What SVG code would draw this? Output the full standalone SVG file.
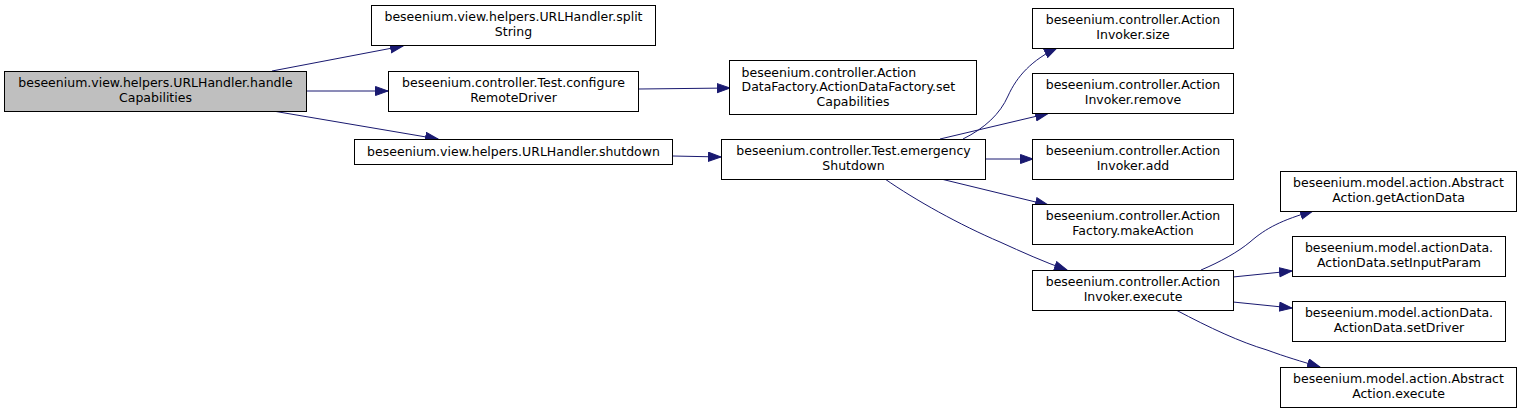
<svg xmlns="http://www.w3.org/2000/svg" width="1527" height="413" viewBox="0 0 1527 413">
<defs>
<marker id="arr" markerUnits="userSpaceOnUse" markerWidth="15" markerHeight="12" refX="13" refY="5" orient="auto">
<path d="M0.5,0.5 L13,5 L0.5,9.5 z" fill="#191970" stroke="#191970" stroke-width="1"/>
</marker>
<style>
.n rect{fill:#fff;stroke:#000;stroke-width:1}
.n.hl rect{fill:#bfbfbf}
.n text{font-family:"DejaVu Sans","Liberation Sans",sans-serif;font-size:12.5px;fill:#000;text-anchor:middle}
.n text.l{text-anchor:start}
.e path{fill:none;stroke:#191970;stroke-width:1;marker-end:url(#arr)}
</style>
</defs>
<rect width="1527" height="413" fill="#fff"/>
<g id="connectors" class="e">
<path d="M272,71 L403,46"/>
<path d="M306,91 L388,91"/>
<path d="M273,111 L438,139"/>
<path d="M639,89 L730,88"/>
<path d="M673,156 L721,157"/>
<path d="M963,139 C985,128 1000,114 1008,96 C1017,76 1032,60 1057,48"/>
<path d="M940,139 L1048,113.5"/>
<path d="M986,159 L1033,159"/>
<path d="M941,179 L1048,205"/>
<path d="M885,179 C915,200 960,225 1000,242 C1022,252 1044,262 1067,270"/>
<path d="M1201,270 C1220,262 1238,252 1250,242 C1266,228 1282,220 1313,211"/>
<path d="M1233,277 L1292,271"/>
<path d="M1233,302 L1292,308"/>
<path d="M1176,310 C1210,328 1240,342 1267,350 C1286,357 1300,361 1320,367"/>
</g>
<g id="handleCapabilities" class="n hl">
<rect x="4.5" y="71.5" width="302" height="40"/>
<text x="155.5" y="87">beseenium.view.helpers.URLHandler.handle</text>
<text x="155.5" y="101.5">Capabilities</text>
</g>
<g id="splitString" class="n">
<rect x="371.5" y="5.5" width="284" height="40"/>
<text x="513.5" y="21">beseenium.view.helpers.URLHandler.split</text>
<text x="513.5" y="35.5">String</text>
</g>
<g id="configureRemoteDriver" class="n">
<rect x="388.5" y="71.5" width="250" height="40"/>
<text x="513.5" y="87">beseenium.controller.Test.configure</text>
<text x="513.5" y="101.5">RemoteDriver</text>
</g>
<g id="urlShutdown" class="n">
<rect x="354.5" y="139.5" width="318" height="25"/>
<text x="513.5" y="156">beseenium.view.helpers.URLHandler.shutdown</text>
</g>
<g id="setCapabilities" class="n">
<rect x="729.5" y="60.5" width="247" height="54"/>
<text class="l" x="741.5" y="76.5">beseenium.controller.Action</text>
<text class="l" x="741.5" y="91">DataFactory.ActionDataFactory.set</text>
<text x="853" y="105.5">Capabilities</text>
</g>
<g id="emergencyShutdown" class="n">
<rect x="721.5" y="139.5" width="264" height="40"/>
<text x="853.5" y="155">beseenium.controller.Test.emergency</text>
<text x="853.5" y="169.5">Shutdown</text>
</g>
<g id="invokerSize" class="n">
<rect x="1032.5" y="8.5" width="201" height="40"/>
<text x="1133" y="24">beseenium.controller.Action</text>
<text x="1133" y="38.5">Invoker.size</text>
</g>
<g id="invokerRemove" class="n">
<rect x="1032.5" y="73.5" width="201" height="40"/>
<text x="1133" y="89">beseenium.controller.Action</text>
<text x="1133" y="103.5">Invoker.remove</text>
</g>
<g id="invokerAdd" class="n">
<rect x="1032.5" y="139.5" width="201" height="40"/>
<text x="1133" y="155">beseenium.controller.Action</text>
<text x="1133" y="169.5">Invoker.add</text>
</g>
<g id="makeAction" class="n">
<rect x="1032.5" y="204.5" width="201" height="40"/>
<text x="1133" y="220">beseenium.controller.Action</text>
<text x="1133" y="234.5">Factory.makeAction</text>
</g>
<g id="invokerExecute" class="n">
<rect x="1032.5" y="270.5" width="201" height="40"/>
<text x="1133" y="286">beseenium.controller.Action</text>
<text x="1133" y="300.5">Invoker.execute</text>
</g>
<g id="getActionData" class="n">
<rect x="1280.5" y="171.5" width="236" height="40"/>
<text x="1398.5" y="187">beseenium.model.action.Abstract</text>
<text x="1398.5" y="201.5">Action.getActionData</text>
</g>
<g id="setInputParam" class="n">
<rect x="1292.5" y="236.5" width="213" height="40"/>
<text x="1399" y="252">beseenium.model.actionData.</text>
<text x="1399" y="266.5">ActionData.setInputParam</text>
</g>
<g id="setDriver" class="n">
<rect x="1292.5" y="301.5" width="213" height="40"/>
<text x="1399" y="317">beseenium.model.actionData.</text>
<text x="1399" y="331.5">ActionData.setDriver</text>
</g>
<g id="abstractExecute" class="n">
<rect x="1280.5" y="367.5" width="236" height="40"/>
<text x="1398.5" y="383">beseenium.model.action.Abstract</text>
<text x="1398.5" y="397.5">Action.execute</text>
</g>
</svg>
